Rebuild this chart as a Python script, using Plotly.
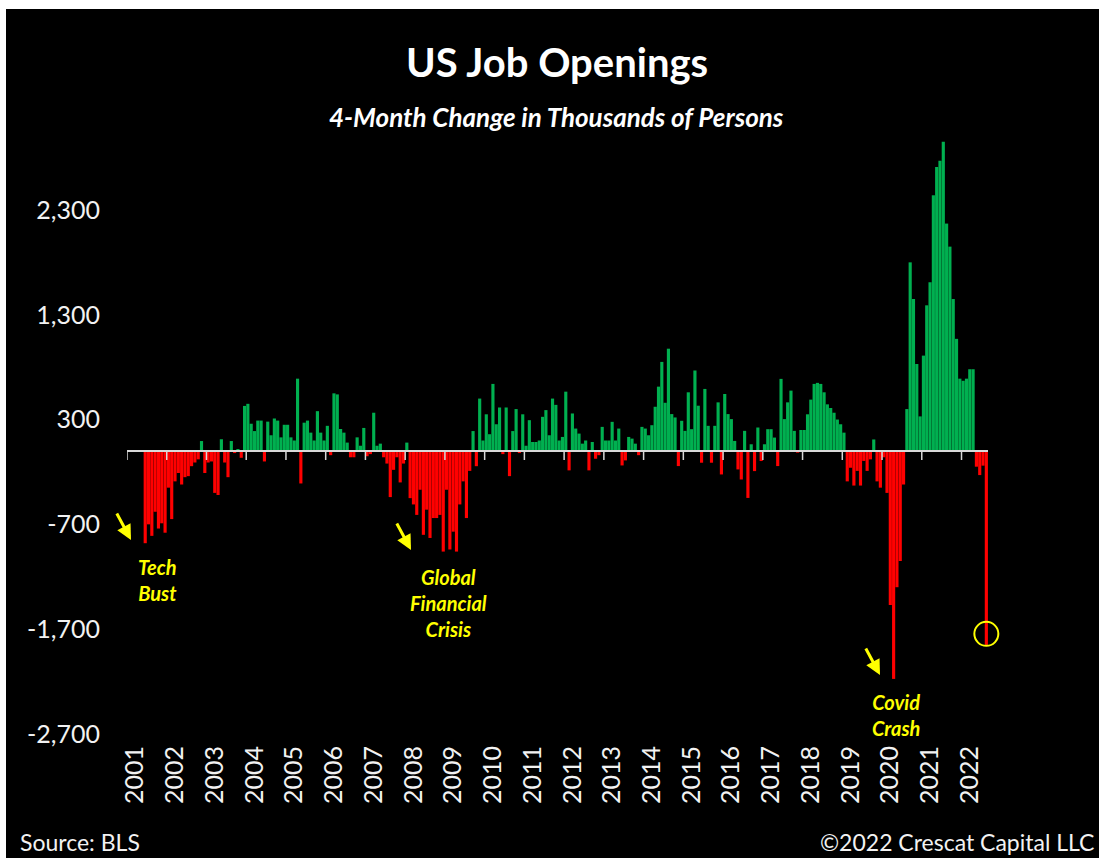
import pandas as pd
import plotly.graph_objects as go

# ---------------------------------------------------------------------------
# US job openings, 4-month change (thousands of persons), monthly Jan 2001 - Aug 2022
# ---------------------------------------------------------------------------
months = pd.date_range("2001-01-01", "2022-08-01", freq="MS")

chg_2001 = [None, None, None, None, None, -880, -700, -810, -580, -740, -690, -780]
chg_2002 = [-350, -650, -290, -210, -320, -250, -240, -145, -110, -80, 95, -210]
chg_2003 = [-110, -100, -400, -420, 112, -110, -250, 95, -20, 15, -65, 430]
chg_2004 = [450, 260, 190, 290, 290, -100, 280, 150, 310, 290, 130, 250]
chg_2005 = [250, 130, 100, 690, -310, 270, 290, 175, 100, 380, 175, 100]
chg_2006 = [240, -40, 550, 540, 210, 175, 80, -60, -60, 130, 50, 220]
chg_2007 = [-50, -30, 365, 50, 70, -60, -120, -440, -180, -60, -300, -120]
chg_2008 = [80, -450, -510, -610, -370, -800, -560, -830, -640, -640, -610, -960]
chg_2009 = [-370, -940, -770, -960, -510, -290, -640, -190, 190, -145, 500, 100]
chg_2010 = [350, 160, 640, 255, 415, -30, 415, -240, 190, 400, -20, 350]
chg_2011 = [50, 294, 86, 86, 100, 326, 390, 150, 500, 440, 100, 134]
chg_2012 = [566, -185, 358, 214, 166, 70, 100, -185, 86, -74, -40, 230]
chg_2013 = [100, 100, 278, 100, 214, -138, -90, 134, 118, 70, -40, 230]
chg_2014 = [214, 150, 246, 422, 614, 850, 460, 976, 352, 320, -144, 288]
chg_2015 = [192, 560, 208, 768, 432, -112, 592, 240, -112, 240, 464, -224]
chg_2016 = [544, 352, 304, 96, -176, -272, 192, -448, 64, -192, 224, -96]
chg_2017 = [64, 208, 208, 128, -144, 688, 304, 464, 576, 192, -16, 200]
chg_2018 = [200, 350, 490, 640, 650, 640, 560, 445, 410, 365, 300, 255]
chg_2019 = [175, -290, -160, -330, -190, -330, -95, -190, -80, 110, -290, -350]
chg_2020 = [-60, -400, -1470, -2175, -1300, -1050, -320, 400, 1800, 1450, 830, 330]
chg_2021 = [910, 1390, 1610, 2440, 2710, 2770, 2950, 2170, 1950, 1450, 1070, 690]
chg_2022 = [670, 690, 780, 780, -150, -230, -140, -1850]

change_4m = (chg_2001 + chg_2002 + chg_2003 + chg_2004 + chg_2005 + chg_2006
             + chg_2007 + chg_2008 + chg_2009 + chg_2010 + chg_2011 + chg_2012
             + chg_2013 + chg_2014 + chg_2015 + chg_2016 + chg_2017 + chg_2018
             + chg_2019 + chg_2020 + chg_2021 + chg_2022)

year_labels = [str(y) for y in range(2001, 2023)]
y_tick_values = [2300, 1300, 300, -700, -1700, -2700]

# ---------------------------------------------------------------------------
# Page geometry
# ---------------------------------------------------------------------------
W, H = 1105, 858
PLOT_L, PLOT_R, PLOT_T, PLOT_B = 127, 988, 130, 740
Y_MIN, Y_MAX = -2758, 3063

GREEN = "#00B050"
RED = "#FF0000"
YELLOW = "#FFFF00"
AXIS = "#d9d9d9"
TEXT = "#f2f2f2"
FONT = "Lato"

n = len(change_4m)
idx = list(range(n))
px_per_unit = (PLOT_B - PLOT_T) / (Y_MAX - Y_MIN)
px_per_cat = (PLOT_R - PLOT_L) / n


def paper_x(px):
    return (px - PLOT_L) / (PLOT_R - PLOT_L)


def paper_y(py):
    return (PLOT_B - py) / (PLOT_B - PLOT_T)


def data_to_px(i, v):
    return PLOT_L + (i + 0.5) * px_per_cat, PLOT_B - (v - Y_MIN) * px_per_unit


colors = [GREEN if (v is not None and v >= 0) else RED for v in change_4m]

fig = go.Figure(
    go.Bar(
        x=idx,
        y=change_4m,
        marker=dict(color=colors, line=dict(width=0)),
        customdata=[m.strftime("%b %Y") for m in months],
        hovertemplate="%{customdata}: %{y:,}<extra></extra>",
    )
)

# black card on a white page
shapes = [
    dict(type="rect", xref="paper", yref="paper",
         x0=paper_x(6), x1=paper_x(1099), y0=paper_y(858), y1=paper_y(9),
         fillcolor="black", line=dict(width=0), layer="below")
]

# baseline with year ticks hanging below it
shapes.append(dict(type="line", xref="x", yref="y", x0=-0.5, x1=n - 0.5, y0=0, y1=0,
                   line=dict(color=AXIS, width=2), layer="above"))
tick_len = 9 / px_per_unit
for k in range(len(year_labels)):
    xb = 12 * k - 0.5
    shapes.append(dict(type="line", xref="x", yref="y", x0=xb, x1=xb, y0=0, y1=-tick_len,
                       line=dict(color=AXIS, width=1.5), layer="above"))

# highlight ring around the latest reading
ring_r = 12
cx, cy = data_to_px(n - 1, change_4m[-1])
cy -= 11
shapes.append(dict(type="circle", xref="paper", yref="paper",
                   x0=paper_x(cx - ring_r), x1=paper_x(cx + ring_r),
                   y0=paper_y(cy + ring_r), y1=paper_y(cy - ring_r),
                   line=dict(color=YELLOW, width=2), fillcolor="rgba(0,0,0,0)", layer="above"))

annotations = [
    dict(text="<b>US Job Openings</b>", x=paper_x(557), y=paper_y(62),
         font=dict(size=40, color="white", family=FONT)),
    dict(text="<b><i>4-Month Change in Thousands of Persons</i></b>", x=paper_x(556), y=paper_y(117),
         font=dict(size=26, color="white", family=FONT)),
    dict(text="Source: BLS", x=paper_x(18), y=paper_y(842), xanchor="left",
         font=dict(size=23, color=TEXT, family=FONT)),
    dict(text="©2022 Crescat Capital LLC", x=paper_x(1096), y=paper_y(842), xanchor="right",
         font=dict(size=23, color=TEXT, family=FONT)),
    dict(text="<b><i>Tech<br>Bust</i></b>", x=paper_x(157), y=paper_y(580),
         font=dict(size=20, color=YELLOW, family=FONT)),
    dict(text="<b><i>Global<br>Financial<br>Crisis</i></b>", x=paper_x(448), y=paper_y(603),
         font=dict(size=20, color=YELLOW, family=FONT)),
    dict(text="<b><i>Covid<br>Crash</i></b>", x=paper_x(896), y=paper_y(715),
         font=dict(size=20, color=YELLOW, family=FONT)),
]
for head in [(131, 540), (411, 550), (880, 675)]:
    annotations.append(dict(text="", x=paper_x(head[0]), y=paper_y(head[1]),
                            showarrow=True, ax=-15, ay=-28, arrowhead=2, arrowsize=1,
                            arrowwidth=3, arrowcolor=YELLOW))
for a in annotations:
    a.setdefault("xref", "paper")
    a.setdefault("yref", "paper")
    a.setdefault("xanchor", "center")
    a.setdefault("yanchor", "middle")
    a.setdefault("showarrow", False)

fig.update_layout(
    width=W, height=H,
    margin=dict(l=PLOT_L, r=W - PLOT_R, t=PLOT_T, b=H - PLOT_B, pad=0),
    paper_bgcolor="white", plot_bgcolor="black",
    bargap=0.05, showlegend=False,
    shapes=shapes, annotations=annotations,
    xaxis=dict(range=[-0.5, n - 0.5], showgrid=False, zeroline=False, showline=False,
               tickvals=[12 * k + 2 for k in range(len(year_labels))], ticktext=year_labels,
               tickangle=-90, ticks="", tickfont=dict(size=25, color=TEXT, family=FONT)),
    yaxis=dict(range=[Y_MIN, Y_MAX], showgrid=False, zeroline=False, showline=False,
               tickvals=y_tick_values, ticktext=[f"{v:,}" for v in y_tick_values],
               ticks="", ticklabelstandoff=26,
               tickfont=dict(size=25, color=TEXT, family=FONT)),
)

fig.write_html("out.html")
